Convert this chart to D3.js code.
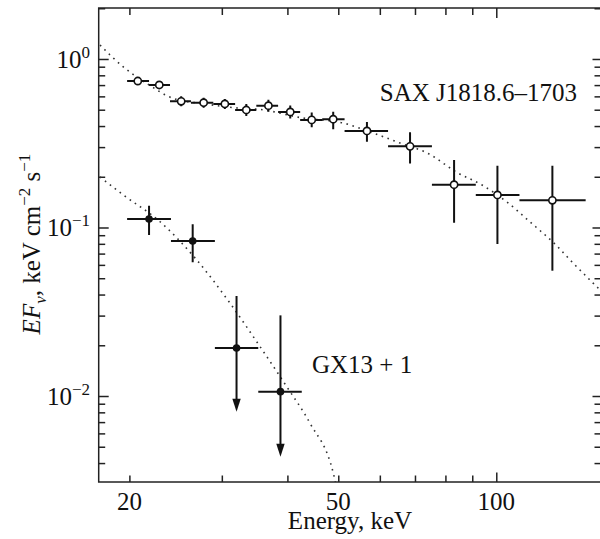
<!DOCTYPE html>
<html>
<head>
<title>SAX J1818.6-1703 / GX13+1 spectra</title>
<script src="https://d3js.org/d3.v7.min.js" charset="utf-8"></script>
<style>
 body { margin: 0; background: white; }
 text { font-family: "Liberation Serif", "DejaVu Serif", serif; fill: #111; }
</style>
</head>
<body>
<script>
// SAX J1818.6-1703 points (open circles): energy, bin edges, flux and its error range
var saxE    = [20.75, 22.8, 25.1, 27.7, 30.4, 33.4, 36.8, 40.5, 44.5, 48.9, 56.7, 68.5, 83.1, 100.5, 127.9];
var saxElo  = [19.8, 21.8, 23.9, 26.2, 28.9, 31.8, 34.9, 38.4, 42.3, 46.6, 51.4, 62.2, 75.4, 91.4, 110.7];
var saxEhi  = [21.8, 23.9, 26.2, 28.9, 31.8, 34.9, 38.4, 42.3, 46.6, 51.4, 62.2, 75.4, 91.4, 110.7, 148];
var saxF    = [0.740, 0.701, 0.561, 0.550, 0.541, 0.498, 0.528, 0.485, 0.435, 0.439, 0.374, 0.303, 0.1795, 0.156, 0.145];
var saxFlo  = [0.701, 0.664, 0.524, 0.514, 0.505, 0.459, 0.486, 0.444, 0.393, 0.383, 0.323, 0.240, 0.1068, 0.0798, 0.0554];
var saxFhi  = [0.782, 0.740, 0.601, 0.589, 0.579, 0.541, 0.573, 0.530, 0.482, 0.487, 0.423, 0.367, 0.2515, 0.2327, 0.2327];

// GX13+1 points (filled circles), last two are upper limits
var gxE   = [21.8, 26.4, 32.0, 38.8];
var gxElo = [19.8, 24.0, 29.1, 35.2];
var gxEhi = [24.0, 29.1, 35.2, 42.6];
var gxF   = [0.1123, 0.0832, 0.01927, 0.01061];
var gxFlo = [0.0902, 0.0621, 0.00807, 0.00436];
var gxFhi = [0.1347, 0.1045, 0.0392, 0.0301];
var gxUL  = [false, false, true, true];

// model curves (dotted)
var saxModelE = [17.58, 19.45, 21.81, 24.12, 27.88, 32.08, 35.48, 42.66, 51.05, 58.24, 65.58, 73.80, 84.55, 93.93, 104.8, 115.98, 129.95, 140.0, 152.9, 159.7];
var saxModelF = [1.211, 0.900, 0.701, 0.587, 0.541, 0.512, 0.502, 0.447, 0.417, 0.364, 0.317, 0.277, 0.2106, 0.1788, 0.1416, 0.1078, 0.0787, 0.0616, 0.0468, 0.0409];
var gxModelE  = [17.58, 19.48, 22.88, 26.88, 31.11, 35.48, 39.89, 44.17, 48.93, 49.6];
var gxModelF  = [0.1994, 0.1559, 0.1082, 0.0641, 0.0355, 0.01962, 0.01135, 0.00689, 0.003477, 0.0029];

var xMinor = [20, 30, 40, 50, 60, 70, 80, 90];
var xMajor = [100];
var xLabels = [20, 50, 100];
var yMajor = [1, 0.1, 0.01];
var yExp = ["0", "\u22121", "\u22122"];
var yMinor = [2, 0.9, 0.8, 0.7, 0.6, 0.5, 0.4, 0.3, 0.2, 0.09, 0.08, 0.07, 0.06, 0.05, 0.04, 0.03, 0.02,
              0.009, 0.008, 0.007, 0.006, 0.005, 0.004];

var width = 600, height = 539;
var pLeft = 98.7, pRight = 603, pTop = 8, pBottom = 482;

var x = d3.scaleLog().domain([17.48, 159.7]).range([pLeft, pRight]);
var y = d3.scaleLog().domain([0.003088, 2.007]).range([pBottom, pTop]);

var svg = d3.select("body").append("svg")
  .attr("width", width)
  .attr("height", height);

svg.append("defs").append("clipPath").attr("id", "plot")
  .append("rect").attr("x", pLeft).attr("y", pTop)
  .attr("width", pRight - pLeft).attr("height", pBottom - pTop);

// frame
svg.append("rect")
  .attr("x", pLeft).attr("y", pTop)
  .attr("width", pRight - pLeft).attr("height", pBottom - pTop)
  .attr("fill", "none").attr("stroke", "#222").attr("stroke-width", 1.5);

// ticks, all pointing inwards
function ticks(axis, tx, ty) {
  var g = svg.append("g").attr("transform", "translate(" + tx + "," + ty + ")").call(axis);
  g.select(".domain").remove();
  g.selectAll("line").attr("stroke", "#222").attr("stroke-width", 1.5);
  g.selectAll("text").remove();
}
ticks(d3.axisBottom(x).tickValues(xMinor).tickSize(-6.5).tickFormat(""), 0, pBottom);
ticks(d3.axisBottom(x).tickValues(xMajor).tickSize(-9.5).tickFormat(""), 0, pBottom);
ticks(d3.axisTop(x).tickValues(xMinor).tickSize(-7).tickFormat(""), 0, pTop);
ticks(d3.axisTop(x).tickValues(xMajor).tickSize(-10).tickFormat(""), 0, pTop);
ticks(d3.axisLeft(y).tickValues(yMinor).tickSize(-6.5).tickFormat(""), pLeft, 0);
ticks(d3.axisLeft(y).tickValues(yMajor).tickSize(-10).tickFormat(""), pLeft, 0);
ticks(d3.axisRight(y).tickValues(yMinor).tickSize(-8.5).tickFormat(""), pRight, 0);
ticks(d3.axisRight(y).tickValues(yMajor).tickSize(-10.5).tickFormat(""), pRight, 0);

// tick labels
svg.selectAll(".xlab").data(xLabels).enter().append("text")
  .attr("class", "xlab")
  .attr("x", function(d) { return x(d); })
  .attr("y", 510)
  .attr("text-anchor", "middle")
  .attr("font-size", 25)
  .text(function(d) { return d; });

yMajor.forEach(function(v, i) {
  var t = svg.append("text")
    .attr("x", 90).attr("y", y(v) + 9)
    .attr("text-anchor", "end")
    .attr("font-size", 25);
  t.append("tspan").text("10");
  t.append("tspan").attr("dy", -10).attr("font-size", 17).text(yExp[i]);
});

// axis titles
svg.append("text")
  .attr("x", 350).attr("y", 529)
  .attr("text-anchor", "middle")
  .attr("font-size", 25)
  .text("Energy, keV");

var yl = svg.append("text")
  .attr("transform", "translate(40,244) rotate(-90)")
  .attr("text-anchor", "middle")
  .attr("font-size", 25);
yl.append("tspan").attr("font-style", "italic").text("EF");
yl.append("tspan").attr("font-style", "italic").attr("font-size", 17).attr("dy", 6).text("\u03bd");
yl.append("tspan").attr("dy", -6).text(", keV cm");
yl.append("tspan").attr("font-size", 17).attr("dy", -10).text("\u22122");
yl.append("tspan").attr("dy", 10).text(" s");
yl.append("tspan").attr("font-size", 17).attr("dy", -10).text("\u22121");

// source labels
svg.append("text").attr("x", 577).attr("y", 101)
  .attr("text-anchor", "end").attr("font-size", 25)
  .text("SAX J1818.6\u20131703");
svg.append("text").attr("x", 312).attr("y", 373)
  .attr("font-size", 25)
  .text("GX13 + 1");

var plot = svg.append("g").attr("clip-path", "url(#plot)");

// model curves
var line = d3.line()
  .x(function(d) { return x(d[0]); })
  .y(function(d) { return y(d[1]); })
  .curve(d3.curveMonotoneX);

[[saxModelE, saxModelF], [gxModelE, gxModelF]].forEach(function(m) {
  plot.append("path")
    .datum(d3.zip(m[0], m[1]))
    .attr("d", line)
    .attr("fill", "none")
    .attr("stroke", "#333")
    .attr("stroke-width", 1.6)
    .attr("stroke-dasharray", "1.6,4.6");
});

// SAX points
var sax = d3.range(saxE.length);
plot.selectAll(".saxh").data(sax).enter().append("line")
  .attr("x1", function(i) { return x(saxElo[i]); })
  .attr("x2", function(i) { return x(saxEhi[i]); })
  .attr("y1", function(i) { return y(saxF[i]); })
  .attr("y2", function(i) { return y(saxF[i]); })
  .attr("stroke", "#111").attr("stroke-width", 2);
plot.selectAll(".saxv").data(sax).enter().append("line")
  .attr("x1", function(i) { return x(saxE[i]); })
  .attr("x2", function(i) { return x(saxE[i]); })
  .attr("y1", function(i) { return y(saxFlo[i]); })
  .attr("y2", function(i) { return y(saxFhi[i]); })
  .attr("stroke", "#111").attr("stroke-width", 2);
plot.selectAll(".saxp").data(sax).enter().append("circle")
  .attr("cx", function(i) { return x(saxE[i]); })
  .attr("cy", function(i) { return y(saxF[i]); })
  .attr("r", 3.6)
  .attr("fill", "white").attr("stroke", "#111").attr("stroke-width", 1.6);

// GX13+1 points
var gx = d3.range(gxE.length);
plot.selectAll(".gxh").data(gx).enter().append("line")
  .attr("x1", function(i) { return x(gxElo[i]); })
  .attr("x2", function(i) { return x(gxEhi[i]); })
  .attr("y1", function(i) { return y(gxF[i]); })
  .attr("y2", function(i) { return y(gxF[i]); })
  .attr("stroke", "#111").attr("stroke-width", 2);
plot.selectAll(".gxv").data(gx).enter().append("line")
  .attr("x1", function(i) { return x(gxE[i]); })
  .attr("x2", function(i) { return x(gxE[i]); })
  .attr("y1", function(i) { return y(gxFhi[i]); })
  .attr("y2", function(i) { return gxUL[i] ? y(gxFlo[i]) - 8 : y(gxFlo[i]); })
  .attr("stroke", "#111").attr("stroke-width", 2);
// arrow heads for upper limits
plot.selectAll(".gxa").data(gx.filter(function(i) { return gxUL[i]; })).enter().append("path")
  .attr("d", function(i) {
    var cx = x(gxE[i]), ty = y(gxFlo[i]);
    return "M" + cx + "," + ty + "L" + (cx - 4.2) + "," + (ty - 13) + "L" + (cx + 4.2) + "," + (ty - 13) + "Z";
  })
  .attr("fill", "#111");
plot.selectAll(".gxp").data(gx).enter().append("circle")
  .attr("cx", function(i) { return x(gxE[i]); })
  .attr("cy", function(i) { return y(gxF[i]); })
  .attr("r", 3.8)
  .attr("fill", "#111");
</script>
</body>
</html>
